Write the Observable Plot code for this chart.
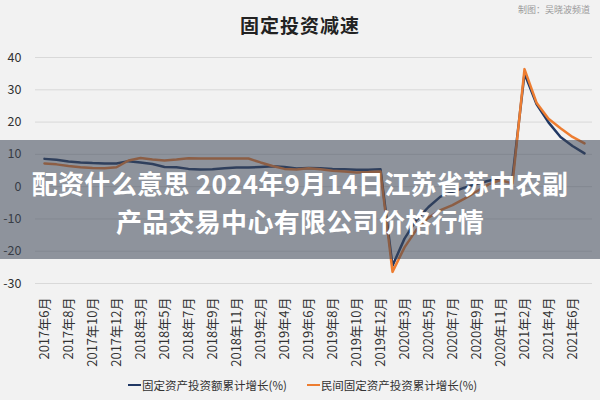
<!DOCTYPE html>
<html><head><meta charset="utf-8">
<script src="https://cdn.jsdelivr.net/npm/d3@7"></script>
<script src="https://cdn.jsdelivr.net/npm/@observablehq/plot@0.6"></script>
<style>
html,body{margin:0;padding:0;background:#f2f2f2;}
#wrap{position:relative;width:600px;height:400px;background:#f2f2f2;font-family:"Noto Sans CJK SC","Noto Sans",sans-serif;overflow:hidden;}
#chart{position:absolute;left:0;top:0;}
#title{position:absolute;left:0;width:600px;top:12px;text-align:center;font-size:19px;font-weight:bold;color:#222;letter-spacing:1px;line-height:26px;}
#credit{position:absolute;right:10px;top:3px;font-size:9px;color:#9a9a9a;}
#legend{position:absolute;left:128px;top:376px;display:flex;align-items:center;font-size:11.5px;color:#333;line-height:18px;}
.item{display:flex;align-items:center;margin-right:20px;}
.sw{width:13px;height:2.5px;margin-right:1px;}
#band{position:absolute;left:0;top:140px;width:600px;height:119px;background:rgba(60,70,85,0.55);color:#fff;font-weight:bold;font-size:26px;text-align:center;z-index:5;}
#band div{line-height:38px;letter-spacing:0.3px;}
</style></head><body>
<div id="wrap">
 <div id="chart"></div>
 <div id="title">固定投资减速</div>
 <div id="credit">制图：吴晓波频道</div>
 <div id="legend"></div>
 <div id="band"><div style="margin-top:24px">配资什么意思 2024年9月14日江苏省苏中农副</div><div>产品交易中心有限公司价格行情</div></div>
</div>
<script>
const months = [
 "2017年6月","2017年7月","2017年8月","2017年9月","2017年10月","2017年11月","2017年12月",
 "2018年2月","2018年3月","2018年4月","2018年5月","2018年6月","2018年7月","2018年8月","2018年9月","2018年10月","2018年11月","2018年12月",
 "2019年2月","2019年3月","2019年4月","2019年5月","2019年6月","2019年7月","2019年8月","2019年9月","2019年10月","2019年11月","2019年12月",
 "2020年2月","2020年3月","2020年4月","2020年5月","2020年6月","2020年7月","2020年8月","2020年9月","2020年10月","2020年11月","2020年12月",
 "2021年2月","2021年3月","2021年4月","2021年5月","2021年6月","2021年7月"
];
const xLabels = [
 "2017年6月","2017年8月","2017年10月","2017年12月","2018年3月","2018年5月","2018年7月","2018年9月","2018年11月",
 "2019年2月","2019年4月","2019年6月","2019年8月","2019年10月","2019年12月",
 "2020年3月","2020年5月","2020年7月","2020年9月","2020年11月","2021年2月","2021年4月","2021年6月"
];
const yTicks = [-30,-20,-10,0,10,20,30,40];
const seriesNames = ["固定资产投资额累计增长(%)","民间固定资产投资累计增长(%)"];
const fai = [8.6,8.3,7.8,7.5,7.3,7.2,7.2,
 7.9,7.5,7.0,6.1,6.0,5.5,5.3,5.4,5.7,5.9,5.9,
 6.1,6.3,6.1,5.6,5.8,5.7,5.5,5.4,5.2,5.2,5.4,
 -24.5,-16.1,-10.3,-6.3,-3.1,-1.6,-0.3,0.8,1.8,2.6,2.9,
 35.0,25.6,19.9,15.4,12.6,10.3];
const priv = [7.2,6.9,6.4,6.0,5.8,5.7,6.0,
 8.1,8.9,8.4,8.1,8.4,8.8,8.7,8.7,8.7,8.7,8.7,
 7.5,6.4,5.5,5.3,5.7,5.4,4.9,4.7,4.4,4.5,4.7,
 -26.4,-18.8,-13.3,-9.6,-7.3,-5.7,-3.7,-1.5,0.7,2.0,1.0,
 36.4,26.0,21.0,18.1,15.4,13.4];
const colors = ["#203864","#ed7d31"];

const data = months.map((m,i)=>({m, fai:fai[i], pri:priv[i]}));
const chart = Plot.plot({
  width:600, height:400,
  marginLeft:35, marginRight:8, marginTop:57, marginBottom:117,
  style:{background:"transparent", fontFamily:'"Noto Sans CJK SC","Noto Sans",sans-serif', color:"#333"},
  x:{type:"point", domain:months, padding:0.5},
  y:{domain:[-30,40]},
  marks:[
    Plot.gridY(yTicks,{stroke:"#d9d9d9", strokeOpacity:1, strokeWidth:1}),
    Plot.axisY(yTicks,{tickSize:0, tickPadding:14, fontSize:12.5, label:null, tickFormat:d=>String(d), fill:"#333"}),
    Plot.axisX(xLabels,{tickSize:0, tickPadding:14, tickRotate:-90, fontSize:13, label:null, fill:"#333"}),
    Plot.line(data,{x:"m", y:"fai", stroke:colors[0], strokeWidth:2.5}),
    Plot.line(data,{x:"m", y:"pri", stroke:colors[1], strokeWidth:2.5})
  ]
});
document.getElementById("chart").appendChild(chart);
const lg = document.getElementById("legend");
seriesNames.forEach((n,i)=>{
  const it = document.createElement("div"); it.className="item";
  it.innerHTML = `<span class="sw" style="background:${colors[i]}"></span><span>${n}</span>`;
  lg.appendChild(it);
});
</script>
</body></html>
